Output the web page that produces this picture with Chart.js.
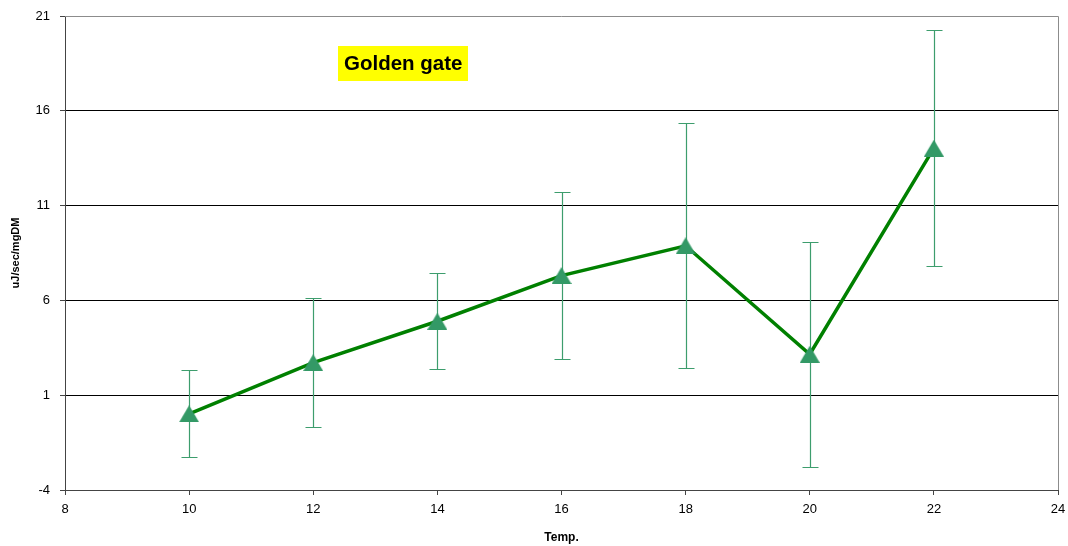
<!DOCTYPE html>
<html>
<head>
<meta charset="utf-8">
<script src="https://cdn.jsdelivr.net/npm/chart.js@4.4.1/dist/chart.umd.min.js"></script>
<style>
  html, body { margin: 0; padding: 0; background: #fff; }
  #wrap { width: 1068px; height: 546px; }
</style>
</head>
<body>
<div id="wrap"><canvas id="c" width="1068" height="546"></canvas></div>
<script>
// Respiration energy vs. temperature, mean ± error
const temps = [10, 12, 14, 16, 18, 20, 22];
const energy = [0.02, 2.72, 4.90, 7.31, 8.88, 3.16, 14.03];
const energyErr = [2.30, 3.40, 2.53, 4.41, 6.47, 5.93, 6.21];
const xTicks = [8, 10, 12, 14, 16, 18, 20, 22, 24];
const yTicks = [-4, 1, 6, 11, 16, 21];
const seriesLabel = 'Golden gate';

const FONT = '"Liberation Sans", Arial, sans-serif';

// Triangle marker centred on its bounding box
function makeTriangle(w, h, color) {
  const cv = document.createElement('canvas');
  cv.width = w; cv.height = h;
  const g = cv.getContext('2d');
  g.fillStyle = color;
  g.beginPath();
  g.moveTo(w / 2, 0);
  g.lineTo(w, h);
  g.lineTo(0, h);
  g.closePath();
  g.fill();
  return cv;
}
const triangle = makeTriangle(20, 17, '#339966');

// Vertical error bars with caps, drawn beneath the line and markers
const errorBars = {
  id: 'errorBars',
  beforeDatasetsDraw(chart) {
    const { ctx, scales: { x, y } } = chart;
    ctx.save();
    ctx.strokeStyle = '#3d9d6d';
    ctx.lineWidth = 1.2;
    temps.forEach((t, i) => {
      const px = Math.round(x.getPixelForValue(t)) + 0.5;
      const yTop = Math.round(y.getPixelForValue(energy[i] + energyErr[i])) + 0.5;
      const yBot = Math.round(y.getPixelForValue(energy[i] - energyErr[i])) + 0.5;
      ctx.beginPath();
      ctx.moveTo(px, yTop); ctx.lineTo(px, yBot);
      ctx.moveTo(px - 8, yTop); ctx.lineTo(px + 8, yTop);
      ctx.moveTo(px - 8, yBot); ctx.lineTo(px + 8, yBot);
      ctx.stroke();
    });
    ctx.restore();
  }
};

// Top and right frame edges of the plot area
const frame = {
  id: 'frame',
  beforeDatasetsDraw(chart) {
    const { ctx, chartArea: a } = chart;
    ctx.save();
    ctx.strokeStyle = '#8c8c8c';
    ctx.lineWidth = 1;
    ctx.beginPath();
    ctx.moveTo(Math.round(a.left), Math.round(a.top) + 0.5);
    ctx.lineTo(Math.round(a.right) + 0.5, Math.round(a.top) + 0.5);
    ctx.lineTo(Math.round(a.right) + 0.5, Math.round(a.bottom));
    ctx.stroke();
    ctx.restore();
  }
};

// Series name in a yellow box inside the plot
const seriesTag = {
  id: 'seriesTag',
  afterDraw(chart) {
    const { ctx, scales: { x, y } } = chart;
    const cx = x.getPixelForValue(13.45);
    const cy = y.getPixelForValue(18.52);
    ctx.save();
    ctx.font = 'bold 20.5px ' + FONT;
    const w = 130, h = 35;
    ctx.fillStyle = '#ffff00';
    ctx.fillRect(Math.round(cx - w / 2), Math.round(cy - h / 2), w, h);
    ctx.fillStyle = '#000';
    ctx.textAlign = 'center';
    ctx.textBaseline = 'middle';
    ctx.fillText(seriesLabel, cx, cy + 1);
    ctx.restore();
  }
};

new Chart(document.getElementById('c'), {
  type: 'line',
  data: {
    datasets: [{
      label: seriesLabel,
      data: temps.map((t, i) => ({ x: t, y: energy[i] })),
      borderColor: '#008000',
      borderWidth: 3.5,
      pointStyle: triangle,
      pointRadius: 10,
      pointHoverRadius: 10,
      tension: 0,
      fill: false
    }]
  },
  options: {
    responsive: false,
    animation: false,
    devicePixelRatio: 1,
    layout: { autoPadding: false, padding: { left: 0, right: 10, top: 16, bottom: 0 } },
    plugins: {
      legend: { display: false },
      tooltip: { enabled: false }
    },
    scales: {
      x: {
        type: 'linear',
        min: 8,
        max: 24,
        afterBuildTicks: s => { s.ticks = xTicks.map(v => ({ value: v })); },
        afterFit: s => { s.height = 56; s.paddingLeft = 0; s.paddingRight = 0; },
        ticks: { color: '#000', font: { family: FONT, size: 13 }, padding: 7, maxRotation: 0 },
        grid: { drawOnChartArea: false, drawTicks: true, tickLength: 5, tickColor: '#444' },
        border: { color: '#444', width: 1 },
        title: {
          display: true,
          text: 'Temp.',
          color: '#000',
          font: { family: FONT, size: 12, weight: 'bold' },
          padding: { top: 0, bottom: 1 }
        }
      },
      y: {
        min: -4,
        max: 21,
        afterBuildTicks: s => { s.ticks = yTicks.map(v => ({ value: v })); },
        afterFit: s => { s.width = 65; s.paddingTop = 0; s.paddingBottom = 0; },
        ticks: { color: '#000', font: { family: FONT, size: 13 }, padding: 10 },
        grid: {
          color: c => (c.tick && c.tick.value === 21) ? 'rgba(0,0,0,0)' : '#000',
          tickColor: '#444',
          tickLength: 5
        },
        border: { color: '#444', width: 1 },
        title: {
          display: true,
          text: 'uJ/sec/mgDM',
          color: '#000',
          font: { family: FONT, size: 11, weight: 'bold' },
          padding: { top: 9, bottom: 0 }
        }
      }
    }
  },
  plugins: [frame, errorBars, seriesTag]
});
</script>
</body>
</html>
